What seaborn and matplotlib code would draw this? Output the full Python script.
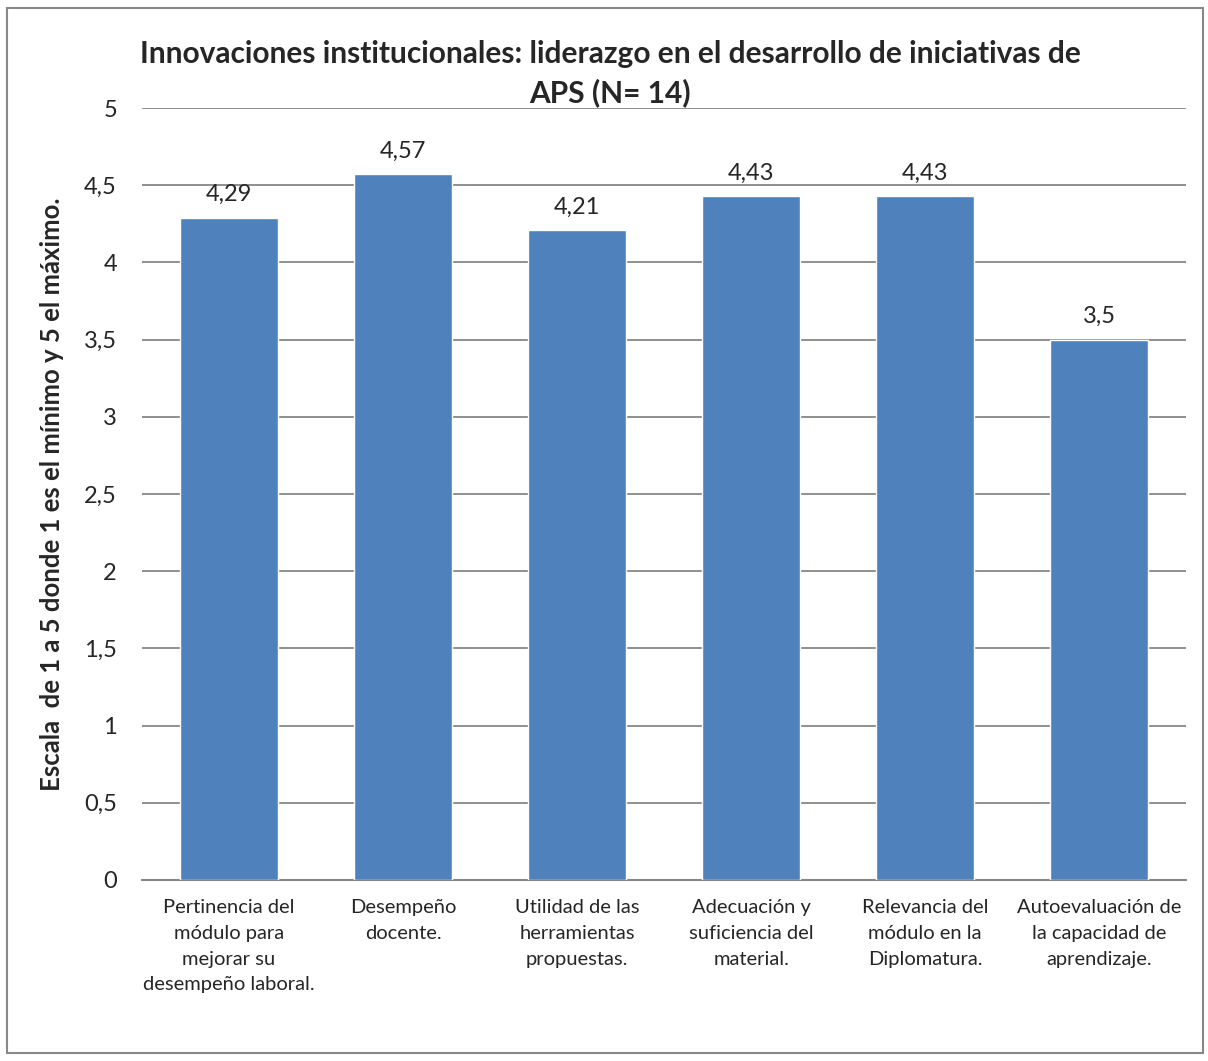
import matplotlib
matplotlib.use('Agg')
import pandas as pd
import seaborn as sns
import matplotlib.pyplot as plt
from matplotlib.patches import Rectangle
from matplotlib.ticker import FuncFormatter

categorias = [
    'Pertinencia del\nmódulo para\nmejorar su\ndesempeño laboral.',
    'Desempeño\ndocente.',
    'Utilidad de las\nherramientas\npropuestas.',
    'Adecuación y\nsuficiencia del\nmaterial.',
    'Relevancia del\nmódulo en la\nDiplomatura.',
    'Autoevaluación de\nla capacidad de\naprendizaje.',
]
valores = [4.29, 4.57, 4.21, 4.43, 4.43, 3.5]
etiquetas = ['4,29', '4,57', '4,21', '4,43', '4,43', '3,5']

titulo = 'Innovaciones institucionales: liderazgo en el desarrollo de iniciativas de\nAPS (N= 14)'
ylabel = 'Escala  de 1 a 5 donde 1 es el mínimo y 5 el máximo.'

sns.set_style('white')
plt.rcParams['font.family'] = ['Lato', 'DejaVu Sans']

df = pd.DataFrame({'cat': categorias, 'val': valores})

fig = plt.figure(figsize=(12.08, 10.61), dpi=100)
ax = fig.add_axes([0.1175, 0.1706, 0.8645, 0.7276])

sns.barplot(data=df, x='cat', y='val', color='#4F81BD', saturation=1,
            width=0.56, ax=ax, zorder=3)

ax.set_ylim(0, 5)
ax.set_yticks([i * 0.5 for i in range(11)])
ax.yaxis.set_major_formatter(FuncFormatter(lambda v, p: ('%g' % v).replace('.', ',')))
ax.grid(axis='y', color='#878787', linewidth=1.3, zorder=0)
for s in ['top', 'right', 'left']:
    ax.spines[s].set_visible(False)
ax.spines['bottom'].set_color('#878787')
ax.spines['bottom'].set_linewidth(1.5)
ax.tick_params(axis='y', labelsize=17, length=0, pad=18)
ax.tick_params(axis='x', length=0, pad=14)
ax.set_xticks(range(len(categorias)))
ax.set_xticklabels(categorias, fontsize=14.5, linespacing=1.62)
ax.set_xlabel('')
ax.set_ylabel(ylabel, fontsize=18.5, fontweight='bold', labelpad=14)

for cont in ax.containers:
    ax.bar_label(cont, labels=etiquetas, padding=9, fontsize=17)

fig.suptitle(titulo, x=0.505, y=0.962, fontsize=21.5, fontweight='bold', linespacing=1.4)

fig.add_artist(Rectangle((0.006, 0.008), 0.99, 0.984, transform=fig.transFigure,
                         fill=False, edgecolor='#888888', linewidth=1.5))

fig.savefig('out.png', dpi=100)
